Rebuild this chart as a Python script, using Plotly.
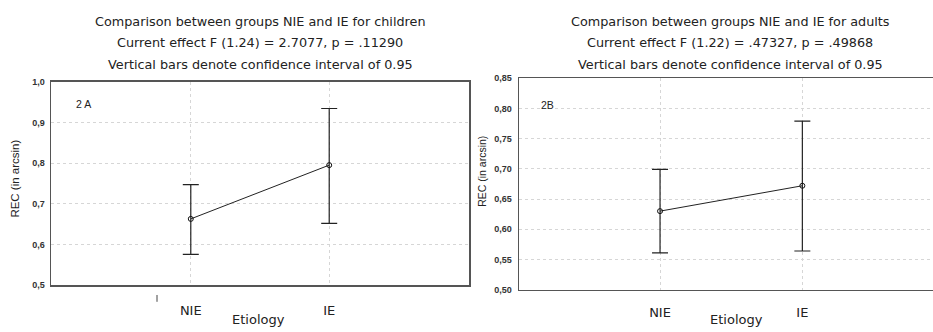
import plotly.graph_objects as go

# ---- data ----
groups = ["NIE", "IE"]
group_pos = [1, 2]

children_mean = [0.663, 0.795]
children_upper = [0.747, 0.934]
children_lower = [0.576, 0.652]

adults_mean = [0.630, 0.672]
adults_upper = [0.699, 0.779]
adults_lower = [0.561, 0.564]

children_ticks = [0.5, 0.6, 0.7, 0.8, 0.9, 1.0]
children_ticktext = ["0,5", "0,6", "0,7", "0,8", "0,9", "1,0"]
adults_ticks = [0.50, 0.55, 0.60, 0.65, 0.70, 0.75, 0.80, 0.85]
adults_ticktext = ["0,50", "0,55", "0,60", "0,65", "0,70", "0,75", "0,80", "0,85"]

titles_children = ["Comparison between groups NIE and IE for children",
                   "Current effect F (1.24) = 2.7077, p = .11290",
                   "Vertical bars denote confidence interval of 0.95"]
titles_adults = ["Comparison between groups NIE and IE for adults",
                 "Current effect F (1.22) = .47327, p = .49868",
                 "Vertical bars denote confidence interval of 0.95"]

FONT = "Liberation Sans, Arial, sans-serif"
WIDE = "DejaVu Sans, Liberation Sans, sans-serif"

W, H = 933, 332


def px(x):
    return x / W


def py(y):
    return (H - y) / H


fig = go.Figure()


def add_panel(xa, ya, mean, upper, lower):
    fig.add_trace(go.Scatter(
        x=group_pos, y=mean, mode="lines+markers",
        xaxis=xa, yaxis=ya,
        line=dict(color="#222222", width=1),
        marker=dict(symbol="circle-open", size=5, color="#111111", line=dict(width=1)),
        error_y=dict(type="data", symmetric=False,
                     array=[u - m for u, m in zip(upper, mean)],
                     arrayminus=[m - l for m, l in zip(mean, lower)],
                     color="#222222", thickness=1.2, width=8),
        showlegend=False, hoverinfo="skip"))


add_panel("x", "y", children_mean, children_upper, children_lower)
add_panel("x2", "y2", adults_mean, adults_upper, adults_lower)

grid = dict(showgrid=True, gridcolor="#d6d6d6", griddash="dot", gridwidth=1)
line = dict(showline=True, linecolor="#555555", linewidth=1.5, mirror=True, zeroline=False)
line_left_only = dict(showline=True, linecolor="#555555", linewidth=1.5, mirror=False, zeroline=False)
ytickfont = dict(size=9, color="#333333", family=FONT, weight="bold")

L = dict(x0=51, x1=469, top=79, bot=289)
R = dict(x0=519, x1=933, top=75.5, bot=293.5)

fig.update_layout(
    width=W, height=H, margin=dict(l=0, r=0, t=0, b=0),
    paper_bgcolor="white", plot_bgcolor="white",
    font=dict(family=FONT, color="#222222"),
    hovermode=False,
    xaxis=dict(domain=[px(L["x0"]), px(L["x1"])], range=[-0.01, 3.01],
               tickvals=group_pos, ticktext=groups, ticks="", ticklabelstandoff=13,
               tickfont=dict(size=13, color="#222222", family=WIDE), anchor="y", **grid, **line),
    yaxis=dict(domain=[py(L["bot"]), py(L["top"])], range=[0.5, 1.0],
               tickvals=children_ticks, ticktext=children_ticktext, ticks="",
               tickfont=ytickfont, ticklabelstandoff=3, anchor="x", **grid, **line),
    xaxis2=dict(domain=[px(R["x0"]), px(R["x1"])], range=[0.009, 2.918],
                tickvals=group_pos, ticktext=groups, ticks="", ticklabelstandoff=10,
                tickfont=dict(size=13, color="#222222", family=WIDE), anchor="y2", **grid, **line),
    yaxis2=dict(domain=[py(R["bot"]), py(R["top"])], range=[0.5, 0.85],
                tickvals=adults_ticks, ticktext=adults_ticktext, ticks="",
                tickfont=ytickfont, ticklabelstandoff=4, anchor="x2", **grid, **line_left_only),
)

ann = []
for i, t in enumerate(titles_children):
    ann.append(dict(text=t, x=px(260), y=py(17 + 22 * i), xref="paper", yref="paper",
                    showarrow=False, xanchor="center", yanchor="middle",
                    font=dict(size=12.8, family=WIDE)))
for i, t in enumerate(titles_adults):
    ann.append(dict(text=t, x=px(730), y=py(17 + 22 * i), xref="paper", yref="paper",
                    showarrow=False, xanchor="center", yanchor="middle",
                    font=dict(size=12.8, family=WIDE)))
# y-axis titles
ann.append(dict(text="REC (in arcsin)", x=px(15), y=py(179), xref="paper", yref="paper",
                showarrow=False, textangle=-90, xanchor="center", yanchor="middle",
                font=dict(size=11.5)))
ann.append(dict(text="REC (in arcsin)", x=px(482), y=py(172), xref="paper", yref="paper",
                showarrow=False, textangle=-90, xanchor="center", yanchor="middle",
                font=dict(size=10.5)))
# x-axis titles
ann.append(dict(text="Etiology", x=px(258), y=py(324), xref="paper", yref="paper",
                showarrow=False, xanchor="center", yanchor="middle",
                font=dict(size=13, family=WIDE)))
ann.append(dict(text="Etiology", x=px(736), y=py(324), xref="paper", yref="paper",
                showarrow=False, xanchor="center", yanchor="middle",
                font=dict(size=13, family=WIDE)))
# panel labels
ann.append(dict(text="2 A", x=px(74), y=py(102), xref="paper", yref="paper",
                showarrow=False, xanchor="left", yanchor="middle", font=dict(size=10.5)))
ann.append(dict(text="2B", x=px(539), y=py(103), xref="paper", yref="paper",
                showarrow=False, xanchor="left", yanchor="middle", font=dict(size=10.5)))
fig.update_layout(annotations=ann)

# stray tick mark near NIE label (left panel)
fig.add_shape(type="line", xref="paper", yref="paper",
              x0=px(157), x1=px(157), y0=py(306), y1=py(299),
              line=dict(color="#444444", width=1))

# place the figure flush with the page corner (no default body margin)
fig.write_html("out.html", config={"displayModeBar": False, "staticPlot": True}, post_script=(
    "document.documentElement.style.margin='0';"
    "document.documentElement.style.overflow='hidden';"
    "document.body.style.margin='0';"
    "document.body.style.overflow='hidden';"))
